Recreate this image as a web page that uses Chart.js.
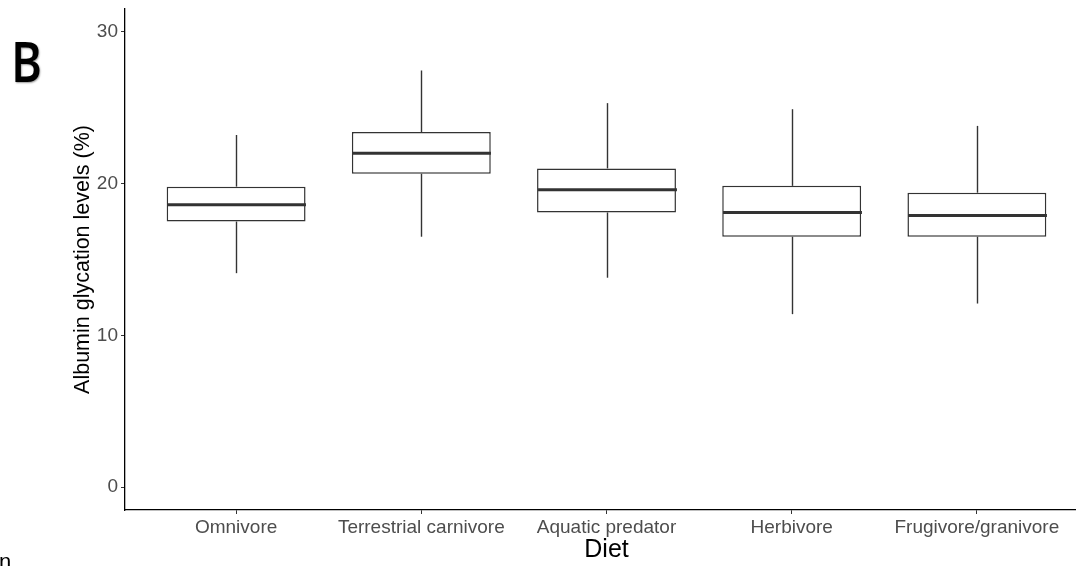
<!DOCTYPE html>
<html>
<head>
<meta charset="utf-8">
<script src="https://cdn.jsdelivr.net/npm/chart.js@4"></script>
<style>
    html, body { margin: 0; padding: 0; background: #fff; overflow: hidden; }
    #wrap { position: relative; width: 1076px; height: 566px; overflow: hidden; }
    #panel {
        position: absolute; left: 11px; top: 32px;
        font-family: "Open Sans", sans-serif; font-weight: 600; font-size: 56px;
        color: #000; text-shadow: 1px 1px 2px rgba(0,0,0,0.4);
        transform: scaleX(0.84); transform-origin: left top; line-height: 1;
    }
    #stray {
        position: absolute; left: -1px; top: 549px;
        font-family: "Liberation Sans", Arial, sans-serif; font-size: 22px; color: #000;
    }
</style>
</head>
<body>
<div id="wrap">
    <!-- el panel original sigue unos px a la derecha y queda recortado -->
    <canvas id="boxChart" width="1088" height="566"></canvas>
    <div id="panel">B</div>
    <div id="stray">n</div>
</div>
<script>
// datos
const categories = ["Omnivore", "Terrestrial carnivore", "Aquatic predator", "Herbivore", "Frugivore/granivore"];
const whiskerLow = [14.1, 16.5, 13.8, 11.4, 12.1];
const q1 = [17.5, 20.65, 18.1, 16.5, 16.5];
const median = [18.6, 22.0, 19.6, 18.1, 17.9];
const q3 = [19.8, 23.4, 21.0, 19.85, 19.4];
const whiskerHigh = [23.2, 27.45, 25.3, 24.9, 23.8];
const yTicks = [0, 10, 20, 30];

// bigotes y mediana
const whiskerPlugin = {
    id: "whiskers",
    afterDatasetsDraw(chart) {
        const ctx = chart.ctx;
        const x = chart.scales.x, y = chart.scales.y;
        const meta = chart.getDatasetMeta(0);
        const line = (x1, y1, x2, y2) => {
            ctx.beginPath();
            ctx.moveTo(x1, y1);
            ctx.lineTo(x2, y2);
            ctx.stroke();
        };
        ctx.save();
        ctx.strokeStyle = "#333";
        categories.forEach((c, i) => {
            const px = Math.round(x.getPixelForValue(i)) + 0.5;
            const half = meta.data[i].width / 2;
            ctx.lineWidth = 1.4;
            line(px, y.getPixelForValue(whiskerHigh[i]), px, y.getPixelForValue(q3[i]));
            line(px, y.getPixelForValue(q1[i]), px, y.getPixelForValue(whiskerLow[i]));
            ctx.lineWidth = 3;
            const ym = y.getPixelForValue(median[i]);
            line(px - half, ym, px + half, ym);
        });
        ctx.restore();
    }
};

document.addEventListener("DOMContentLoaded", function () {
    const ctx = document.getElementById("boxChart").getContext("2d");
    new Chart(ctx, {
        type: "bar",
        data: {
            datasets: [{
                data: categories.map((c, i) => ({ x: i, y: [q1[i], q3[i]] })),
                backgroundColor: "#fff",
                borderColor: "#333",
                borderWidth: 1.5,
                borderSkipped: false,
                barPercentage: 0.75,
                categoryPercentage: 1
            }]
        },
        options: {
            responsive: false,
            animation: false,
            layout: { padding: { top: 9, left: 0, right: 0, bottom: 0 } },
            plugins: {
                legend: { display: false },
                tooltip: { enabled: false }
            },
            scales: {
                x: {
                    type: "linear",
                    offset: false,
                    min: -0.6,
                    max: 4.6,
                    afterBuildTicks: (scale) => {
                        scale.ticks = categories.map((c, i) => ({ value: i }));
                    },
                    afterFit: (scale) => {
                        scale.height = 56;
                        scale.paddingLeft = 0;
                        scale.paddingRight = 0;
                    },
                    ticks: {
                        callback: (v) => categories[v],
                        color: "#4d4d4d",
                        font: { family: "Liberation Sans", size: 19 },
                        padding: 2,
                        maxRotation: 0,
                        autoSkip: false
                    },
                    grid: { offset: false, drawOnChartArea: false, drawTicks: true, tickLength: 4, tickColor: "#333" },
                    border: { display: true, color: "#000", width: 1.3 },
                    title: {
                        display: true,
                        text: "Diet",
                        color: "#000",
                        font: { family: "Liberation Sans", size: 25 },
                        padding: { top: 0, bottom: 1 }
                    }
                },
                y: {
                    min: -1.5,
                    max: 31.5,
                    afterBuildTicks: (scale) => {
                        scale.ticks = yTicks.map(v => ({ value: v }));
                    },
                    afterFit: (scale) => {
                        scale.width = 125;
                        scale.paddingTop = 0;
                        scale.paddingBottom = 0;
                    },
                    ticks: {
                        color: "#4d4d4d",
                        font: { family: "Liberation Sans", size: 19 },
                        padding: 3
                    },
                    grid: { drawOnChartArea: false, drawTicks: true, tickLength: 4, tickColor: "#333" },
                    border: { display: true, color: "#000", width: 1.3 },
                    title: {
                        display: true,
                        text: "Albumin glycation levels (%)",
                        color: "#000",
                        font: { family: "Liberation Sans", size: 21.5 },
                        padding: { top: 70, bottom: 0 }
                    }
                }
            }
        },
        plugins: [whiskerPlugin]
    });
});
</script>
</body>
</html>
